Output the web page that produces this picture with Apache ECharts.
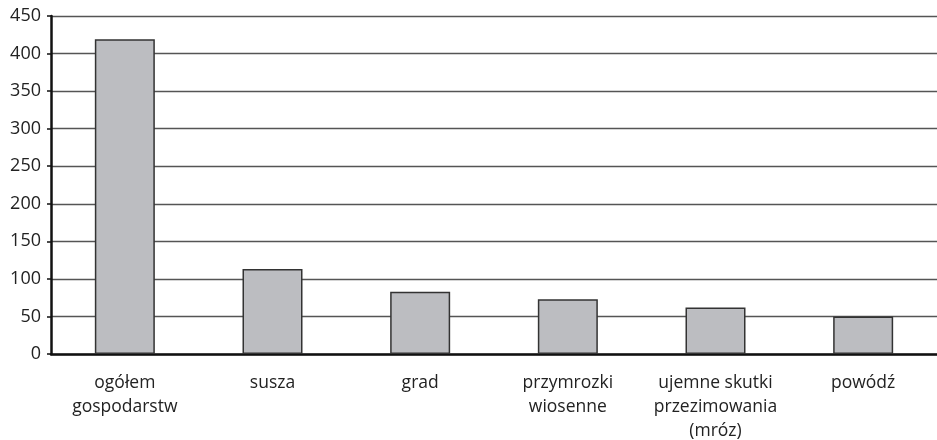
<!DOCTYPE html>
<html>
<head>
<meta charset="utf-8">
<script src="https://cdn.jsdelivr.net/npm/echarts@6/dist/echarts.min.js"></script>
<style>html,body{margin:0;padding:0;background:#fff}#c{width:937px;height:440px}</style>
</head>
<body>
<div id="c"></div>
<script>
const categories = ['ogółem\ngospodarstw', 'susza', 'grad', 'przymrozki\nwiosenne', 'ujemne skutki\nprzezimowania\n(mróz)', 'powódź'];
const values = [419, 113, 83, 73, 62, 50];

const chart = echarts.init(document.getElementById('c'), null, {renderer: 'canvas'});
chart.setOption({
  animation: false,
  grid: {left: 51, right: 0, top: 16, bottom: 86, containLabel: false, outerBoundsMode: 'none'},
  xAxis: {
    type: 'category',
    data: categories,
    axisLine: {lineStyle: {color: '#111', width: 2.5}},
    axisTick: {show: false},
    axisLabel: {color: '#222', fontFamily: 'Open Sans', fontSize: 17.5, lineHeight: 24, margin: 17, interval: 0}
  },
  yAxis: {
    type: 'value',
    min: 0, max: 450, interval: 50,
    axisLine: {show: true, lineStyle: {color: '#111', width: 2.5}},
    axisTick: {show: true, length: 4, lineStyle: {color: '#111', width: 1.5}},
    axisLabel: {color: '#222', fontFamily: 'Open Sans', fontSize: 18, margin: 10},
    splitLine: {lineStyle: {color: '#555', width: 1.3}}
  },
  series: [{
    type: 'bar',
    data: values,
    barWidth: 60,
    itemStyle: {color: '#bcbdc1', borderColor: '#333', borderWidth: 1.5}
  }]
});
</script>
</body>
</html>
